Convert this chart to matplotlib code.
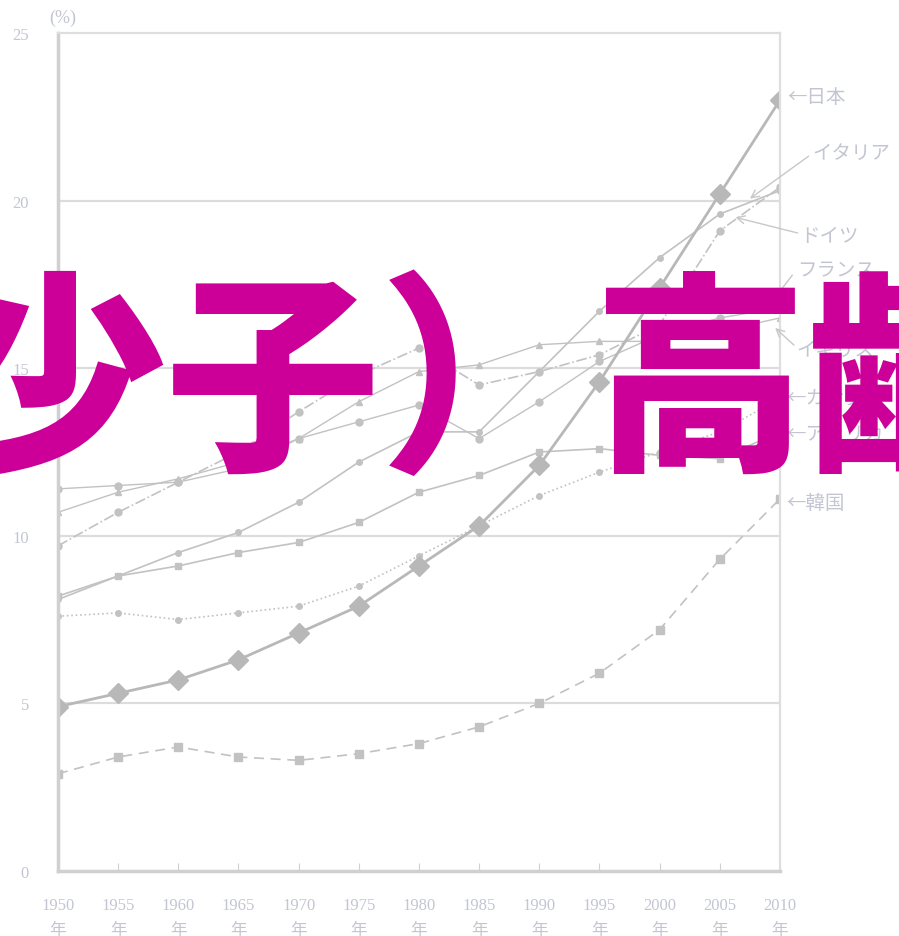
import matplotlib
matplotlib.use("Agg")
import matplotlib.pyplot as plt

# 高齢化率の推移（65歳以上人口の割合, %）
years = [1950, 1955, 1960, 1965, 1970, 1975, 1980, 1985, 1990, 1995, 2000, 2005, 2010]
japan = [4.9, 5.3, 5.7, 6.3, 7.1, 7.9, 9.1, 10.3, 12.1, 14.6, 17.4, 20.2, 23.0]
italy = [8.1, 8.8, 9.5, 10.1, 11.0, 12.2, 13.1, 13.1, 14.9, 16.7, 18.3, 19.6, 20.3]
germany = [9.7, 10.7, 11.6, 12.5, 13.7, 14.8, 15.6, 14.5, 14.9, 15.4, 16.3, 19.1, 20.4]
france = [11.4, 11.5, 11.6, 12.0, 12.9, 13.4, 13.9, 12.9, 14.0, 15.2, 16.0, 16.5, 16.8]
uk = [10.7, 11.3, 11.7, 12.2, 12.9, 14.0, 14.9, 15.1, 15.7, 15.8, 15.8, 16.1, 16.5]
canada = [7.6, 7.7, 7.5, 7.7, 7.9, 8.5, 9.4, 10.3, 11.2, 11.9, 12.5, 13.1, 14.1]
usa = [8.2, 8.8, 9.1, 9.5, 9.8, 10.4, 11.3, 11.8, 12.5, 12.6, 12.4, 12.3, 13.1]
korea = [2.9, 3.4, 3.7, 3.4, 3.3, 3.5, 3.8, 4.3, 5.0, 5.9, 7.2, 9.3, 11.1]

xlabels = [f"{y}\n年" for y in years]
ylabels = ["0", "5", "10", "15", "20", "25"]

line_c = "#C2C2C2"
text_c = "#C3C6D2"

fig = plt.figure(figsize=(8.99, 9.37), dpi=100)
ax = fig.add_axes([0.0645, 0.0694, 0.8031, 0.8943])

ax.plot(years, korea, color=line_c, lw=1.2, ls=(0, (6, 4)), marker="s", ms=6)
ax.plot(years, canada, color=line_c, lw=1.2, ls=":", marker="o", ms=4)
ax.plot(years, usa, color=line_c, lw=1.2, ls="-", marker="s", ms=5)
ax.plot(years, italy, color=line_c, lw=1.2, ls="-", marker="o", ms=4)
ax.plot(years, france, color=line_c, lw=1.0, ls="-", marker="o", ms=5)
ax.plot(years, uk, color=line_c, lw=1.0, ls="-", marker="^", ms=5)
ax.plot(years, germany, color=line_c, lw=1.2, ls="-.", marker="o", ms=5)
ax.plot(years, japan, color="#B8B8B8", lw=2.0, ls="-", marker="D", ms=10)

ax.set_xlim(1950, 2010)
ax.set_ylim(0, 25)
ax.set_yticks([0, 5, 10, 15, 20, 25])
ax.set_yticklabels(ylabels)
ax.set_xticks(years)
ax.set_xticklabels(xlabels, linespacing=1.7)
for y in [5, 10, 15, 20]:
    ax.axhline(y, color="#DCDCDC", lw=1.6, zorder=0)

for s in ["left", "bottom"]:
    ax.spines[s].set_color("#D0D0D0")
    ax.spines[s].set_linewidth(2.5)
for s in ["top", "right"]:
    ax.spines[s].set_color("#DEDEDE")
    ax.spines[s].set_linewidth(1.6)

ax.tick_params(axis="x", direction="in", length=6, color="#D0D0D0", pad=19,
               labelsize=12, labelcolor=text_c)
ax.tick_params(axis="y", length=0, pad=21, labelsize=12, labelcolor=text_c)
for t in ax.get_xticklabels() + ax.get_yticklabels():
    t.set_family(["Liberation Serif", "Noto Sans CJK JP"])

fig.text(0.055, 0.975, "(%)", fontsize=13, color=text_c, family="Liberation Serif")

# 国名ラベル
lab = dict(fontsize=14, color=text_c, family=["Noto Sans CJK JP", "DejaVu Sans"],
           va="center", ha="left", annotation_clip=False)
arr = dict(arrowstyle="->", color="#C8C8C8", lw=1.0, shrinkA=0, shrinkB=0)
ax.annotate("←日本", xy=(2010.6, 23.1), **lab)
ax.annotate("イタリア", xy=(2007.5, 20.06), xytext=(2012.7, 21.45),
            arrowprops=dict(arr, relpos=(-0.05, 0.3)), **lab)
ax.annotate("ドイツ", xy=(2006.3, 19.5), xytext=(2011.7, 18.95),
            arrowprops=dict(arr, relpos=(0, 0.6)), **lab)
ax.annotate("フランス", xy=(2008.5, 16.6), xytext=(2011.4, 17.95),
            arrowprops=dict(arrowstyle="-", color="#C8C8C8", lw=1.0, relpos=(0, 0.5)), **lab)
ax.annotate("イギリス", xy=(2009.6, 16.2), xytext=(2011.4, 15.55),
            arrowprops=dict(arr, relpos=(0, 0.6)), **lab)
ax.annotate("←カナダ", xy=(2010.5, 14.15), **lab)
ax.annotate("←アメリカ", xy=(2010.5, 13.05), **lab)
ax.annotate("←韓国", xy=(2010.5, 11.0), **lab)

# 上に重なる大きな文字
fig.text(-0.053, 0.584, "少子）高齢", fontsize=154, color="#CC0099",
         family="Noto Sans CJK JP", weight="black", va="center", ha="left",
         zorder=20)

fig.savefig("out.png", dpi=100)
